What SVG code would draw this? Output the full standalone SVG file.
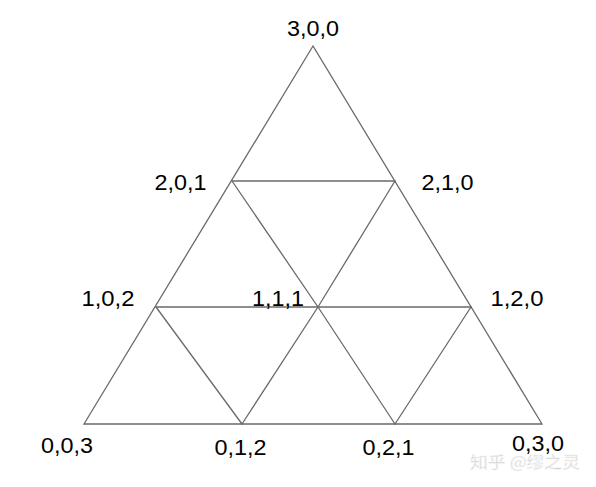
<svg xmlns="http://www.w3.org/2000/svg" width="596" height="487" viewBox="0 0 596 487">
<style>
.e{stroke:#6a6a6a;stroke-width:1.3;fill:none;stroke-linecap:round}
.l{font-family:"Liberation Sans",Arial,sans-serif;font-size:22px;fill:#000;text-anchor:middle}
.w{font-family:"Noto Sans CJK SC",sans-serif;font-size:16px;fill:#d2d2d2;stroke:#f4f4f4;stroke-width:0.5}
</style>
<rect width="596" height="487" fill="#fff"/>
<g id="connectors">
<path class="e" d="M313,46 L84,424 L542,424 Z"/>
<path class="e" d="M232,181 L395,181"/>
<path class="e" d="M156,307 L471,307"/>
<path class="e" d="M232,181 L318,307 L395,424"/>
<path class="e" d="M395,181 L318,307 L242,424"/>
<path class="e" d="M156,307 L242,424"/>
<path class="e" d="M471,307 L395,424"/>
</g>
<g id="n300"><text class="l" x="313" y="36" textLength="52" lengthAdjust="spacingAndGlyphs">3,0,0</text></g>
<g id="n201"><text class="l" x="180.5" y="190" textLength="52" lengthAdjust="spacingAndGlyphs">2,0,1</text></g>
<g id="n210"><text class="l" x="447.5" y="189.5" textLength="52" lengthAdjust="spacingAndGlyphs">2,1,0</text></g>
<g id="n102"><text class="l" x="108" y="306" textLength="53" lengthAdjust="spacingAndGlyphs">1,0,2</text></g>
<g id="n111"><text class="l" x="278" y="306" textLength="52" lengthAdjust="spacingAndGlyphs">1,1,1</text></g>
<g id="n120"><text class="l" x="517" y="306" textLength="53" lengthAdjust="spacingAndGlyphs">1,2,0</text></g>
<g id="n003"><text class="l" x="67" y="453" textLength="52" lengthAdjust="spacingAndGlyphs">0,0,3</text></g>
<g id="n012"><text class="l" x="240.5" y="455" textLength="52" lengthAdjust="spacingAndGlyphs">0,1,2</text></g>
<g id="n021"><text class="l" x="388.5" y="455" textLength="52" lengthAdjust="spacingAndGlyphs">0,2,1</text></g>
<g id="n030"><text class="l" x="538" y="451" textLength="52" lengthAdjust="spacingAndGlyphs">0,3,0</text></g>
<text class="w" x="470" y="468" textLength="110" lengthAdjust="spacingAndGlyphs">知乎 @缪之灵</text>
</svg>
